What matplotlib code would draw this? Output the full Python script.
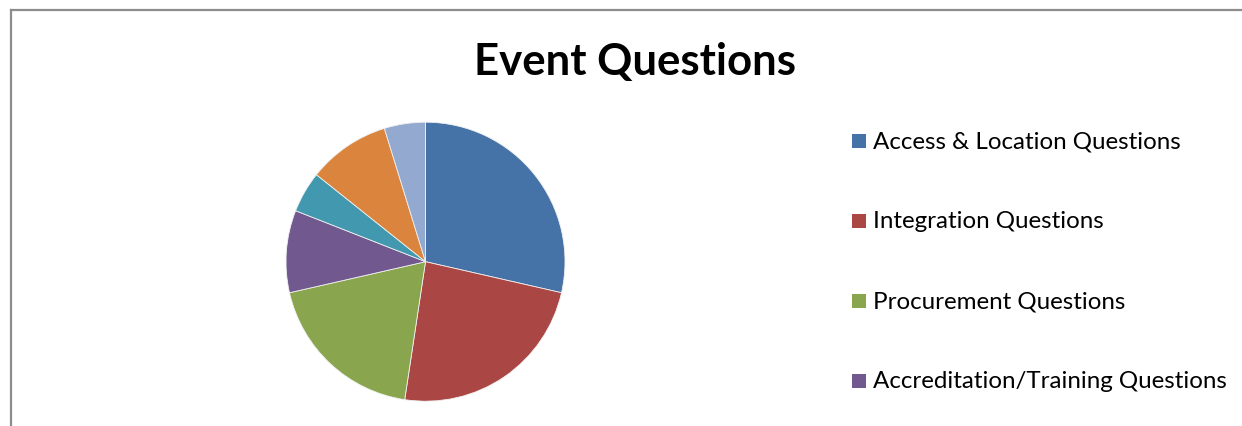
import matplotlib
matplotlib.use("Agg")
import matplotlib.pyplot as plt
from matplotlib.patches import Rectangle
from matplotlib.lines import Line2D

# Question counts per category (clockwise from 12 o'clock)
categories = [
    "Access & Location Questions",
    "Integration Questions",
    "Procurement Questions",
    "Accreditation/Training Questions",
]
counts = [6, 5, 4, 2, 1, 2, 1]
colors = ["#4572A7", "#AA4643", "#89A54E", "#71588F",
          "#4198AF", "#DB843D", "#93A9CF"]
title = "Event Questions"

W, H = 1242, 426
fig = plt.figure(figsize=(W / 100, H / 100), dpi=100)
fig.patch.set_facecolor("white")

# pie axes: centre (425.5, 261.7) px from top-left, radius 139.5 px
cx, cy, r = 425.5, 261.7, 139.5
ax = fig.add_axes([(cx - r) / W, (H - cy - r) / H, 2 * r / W, 2 * r / H])
ax.pie(counts, colors=colors, startangle=90, counterclock=False,
       wedgeprops=dict(edgecolor="#f0f0f0", linewidth=0.6))
ax.set_xlim(-1, 1)
ax.set_ylim(-1, 1)
ax.set_aspect("equal")
ax.axis("off")

font = "Lato"
fig.text(635 / W, 1 - 62 / H, title, ha="center", va="center",
         fontsize=31.5, fontweight="bold", family=font)

# legend column
for i, (lab, col) in enumerate(zip(categories, colors)):
    y = 141 + 80 * i
    fig.patches.append(Rectangle(((852) / W, 1 - (y + 7) / H), 14 / W, 14 / H,
                                 transform=fig.transFigure, facecolor=col,
                                 edgecolor="none"))
    fig.text(873 / W, 1 - (y + 1) / H, lab, ha="left", va="center",
             fontsize=17.4, family=font)

# chart-area border (top and left edges visible)
fig.add_artist(Line2D([11 / W, 1], [1 - 10 / H, 1 - 10 / H],
                      transform=fig.transFigure, color="#8c8c8c", linewidth=1.6))
fig.add_artist(Line2D([11 / W, 11 / W], [0, 1 - 10 / H],
                      transform=fig.transFigure, color="#8c8c8c", linewidth=1.6))

fig.savefig("out.png", dpi=100)
